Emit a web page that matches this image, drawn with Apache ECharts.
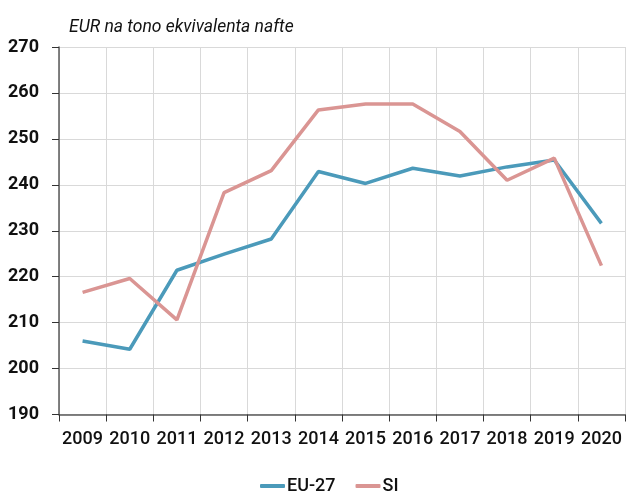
<!DOCTYPE html>
<html>
<head>
<meta charset="utf-8">
<script src="https://cdn.jsdelivr.net/npm/echarts@6/dist/echarts.min.js"></script>
<style>
  html, body { margin: 0; padding: 0; background: #fff; }
  #chart { width: 626px; height: 495px; }
</style>
</head>
<body>
<div id="chart"></div>
<script>
// Years on the horizontal axis
const years = ['2009', '2010', '2011', '2012', '2013', '2014', '2015', '2016', '2017', '2018', '2019', '2020'];
// Price in EUR per tonne of oil equivalent
const eu27 = [206.0, 204.2, 221.4, 224.9, 228.2, 242.9, 240.3, 243.6, 241.9, 243.9, 245.4, 231.6];
const si = [216.6, 219.6, 210.6, 238.3, 243.1, 256.3, 257.6, 257.6, 251.6, 241.0, 245.8, 222.4];
const unitLabel = 'EUR na tono ekvivalenta nafte';

const FONT = 'Roboto, "Noto Sans", sans-serif';
const axisColor = '#595959';
const gridColor = '#d9d9d9';

const chart = echarts.init(document.getElementById('chart'), null, { renderer: 'canvas' });
chart.setOption({
  animation: false,
  backgroundColor: '#ffffff',
  title: {
    text: unitLabel,
    left: 64,
    top: 14,
    textStyle: { fontFamily: FONT, fontStyle: 'italic', fontWeight: 'normal', fontSize: 17.5, color: '#111' }
  },
  legend: {
    top: 472,
    left: 255,
    itemWidth: 25,
    itemHeight: 4,
    itemGap: 20,
    icon: 'roundRect',
    textStyle: { fontFamily: FONT, fontWeight: 500, fontSize: 18, color: '#111', padding: [0, 0, 0, -3] },
    data: ['EU-27', 'SI']
  },
  grid: { left: 59, right: 1, top: 47, bottom: 80.5, containLabel: false },
  xAxis: {
    type: 'category',
    data: years,
    boundaryGap: true,
    axisLine: { show: true, lineStyle: { color: axisColor, width: 1.5 } },
    axisTick: { show: true, length: 7, lineStyle: { color: '#333', width: 1 } },
    axisLabel: { margin: 16, fontFamily: FONT, fontWeight: 500, fontSize: 18, color: '#111', interval: 0 },
    splitLine: { show: true, lineStyle: { color: gridColor, width: 1 } }
  },
  yAxis: {
    type: 'value',
    min: 190,
    max: 270,
    interval: 10,
    axisLine: { show: true, lineStyle: { color: axisColor, width: 1.5 } },
    axisTick: { show: true, length: 7, lineStyle: { color: '#333', width: 1 } },
    axisLabel: { margin: 20, fontFamily: FONT, fontWeight: 'bold', fontSize: 18, color: '#111' },
    splitLine: { show: true, lineStyle: { color: gridColor, width: 1 } }
  },
  series: [
    {
      name: 'EU-27',
      type: 'line',
      data: eu27,
      symbol: 'none',
      lineStyle: { color: '#4b9aba', width: 3.5 },
      itemStyle: { color: '#4b9aba' }
    },
    {
      name: 'SI',
      type: 'line',
      data: si,
      symbol: 'none',
      lineStyle: { color: '#da9593', width: 3.5 },
      itemStyle: { color: '#da9593' }
    }
  ]
});
</script>
</body>
</html>
